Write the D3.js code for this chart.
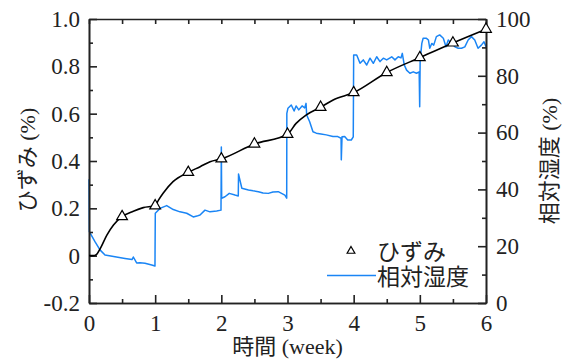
<!DOCTYPE html>
<html>
<head>
<meta charset="utf-8">
<script src="https://cdn.jsdelivr.net/npm/d3@7"></script>
<style>
  body { margin: 0; background: #fff; }
  text { fill: #222; }
</style>
</head>
<body>
<svg id="chart" width="570" height="360"></svg>
<script>
// Axis ticks
const weekTicks = [0, 1, 2, 3, 4, 5, 6];
const weekMinor = [0.5, 1.5, 2.5, 3.5, 4.5, 5.5];
const strainTicks = [-0.2, 0, 0.2, 0.4, 0.6, 0.8, 1.0];
const strainMinor = [-0.1, 0.1, 0.3, 0.5, 0.7, 0.9];
const rhTicks = [0, 20, 40, 60, 80, 100];
const rhMinor = [10, 30, 50, 70, 90];

// Strain (%) — measured every half week
const markerWeek = [0.5, 1, 1.5, 2, 2.5, 3, 3.5, 4, 4.5, 5, 5.5, 6];
const markerStrain = [0.165, 0.211, 0.352, 0.409, 0.472, 0.513, 0.627, 0.689, 0.774, 0.837, 0.899, 0.957];

// Strain (%) — continuous record
const strainWeek = [0, 0.06, 0.11, 0.17, 0.27, 0.37, 0.5, 0.67, 0.82, 1.0, 1.05, 1.12, 1.27, 1.5, 1.68, 1.83, 2.0, 2.5, 3.0, 3.13, 3.28, 3.5, 3.69, 4.0, 4.5, 5.0, 5.5, 6.0];
const strainValue = [0, 0, 0.004, 0.03, 0.087, 0.13, 0.165, 0.188, 0.203, 0.211, 0.235, 0.264, 0.313, 0.352, 0.376, 0.397, 0.409, 0.472, 0.513, 0.559, 0.594, 0.627, 0.658, 0.689, 0.774, 0.837, 0.899, 0.957];

// Relative humidity (%) — logger record
const rhWeek = [0, 0.005, 0.09, 0.166, 0.242, 0.393, 0.544, 0.65, 0.67, 0.72, 0.77, 0.846, 0.948, 0.997,
  1.002, 1.073, 1.174, 1.274, 1.375, 1.477, 1.576, 1.63, 1.678, 1.753, 1.829, 1.93, 1.995,
  2.0, 2.005, 2.055, 2.12, 2.206, 2.256, 2.26, 2.31, 2.41, 2.48, 2.56, 2.63, 2.71, 2.78, 2.86, 2.96, 2.988,
  2.99, 3.007, 3.057, 3.10, 3.13, 3.17, 3.22, 3.26, 3.28, 3.29, 3.335, 3.385, 3.435, 3.506, 3.586, 3.687, 3.76, 3.81, 3.813, 3.824, 3.864, 3.91, 3.964, 3.994,
  4.0, 4.046, 4.096, 4.145, 4.197, 4.247, 4.297, 4.348, 4.398, 4.448, 4.499, 4.575, 4.624, 4.674, 4.715, 4.735, 4.765, 4.80, 4.85, 4.90, 4.95, 4.99,
  4.998, 5.005, 5.03, 5.05, 5.10, 5.13, 5.15, 5.18, 5.21, 5.25, 5.30, 5.355, 5.395, 5.43, 5.48, 5.53, 5.58, 5.63, 5.68, 5.73, 5.78, 5.83, 5.88, 5.93, 5.97, 6.0];
const rhValue = [43.6, 25.1, 21.6, 18.7, 16.9, 16.3, 15.7, 15.3, 16.2, 14.1, 14.2, 14.0, 13.4, 13.0,
  31.6, 33.3, 34.3, 32.9, 32.1, 31.6, 30.3, 30.6, 31.0, 32.7, 32.1, 32.4, 32.7,
  54.9, 36.9, 37.4, 38.6, 38.0, 37.7, 45.4, 40.4, 39.8, 39.5, 39.2, 38.7, 38.6, 39.1, 39.2, 38.0, 36.9,
  66.8, 68.6, 69.7, 67.6, 69.4, 68.0, 69.4, 68.7, 70.3, 66.2, 63.8, 60.3, 59.8, 59.5, 59.2, 58.6, 58.6, 58.0, 50.4, 58.5, 58.6, 57.4, 57.4, 58.5,
  87.3, 87.3, 84.4, 85.6, 83.8, 86.2, 84.4, 86.7, 85.0, 86.2, 85.6, 86.7, 85.6, 86.7, 86.3, 87.9, 83.8, 82.0, 80.9, 81.4, 80.9, 81.4,
  69.1, 85.6, 91.4, 93.2, 93.2, 92.6, 89.7, 91.4, 90.8, 93.8, 94.4, 93.2, 90.2, 92.6, 91.4, 90.2, 89.7, 89.7, 90.2, 92.6, 93.8, 92.6, 89.7, 90.8, 92.0, 90.2];

const svg = d3.select("#chart");
const plotLeft = 89, plotRight = 486, plotTop = 19, plotBottom = 303;
const numFont = "'Liberation Serif', 'Times New Roman', serif";
const jpFont = "'Liberation Serif', 'Noto Sans CJK JP', serif";

const x = d3.scaleLinear().domain([0, 6]).range([plotLeft, plotRight]);
const yL = d3.scaleLinear().domain([-0.2, 1.0]).range([plotBottom, plotTop]);
const yR = d3.scaleLinear().domain([0, 100]).range([plotBottom, plotTop]);

function styleAxis(g) {
  g.attr("font-family", numFont).attr("font-size", 23);
  g.selectAll("path, line").attr("stroke", "#222").attr("stroke-width", 1.6);
  g.selectAll("text").attr("font-family", numFont).attr("font-size", 23).attr("fill", "#222");
}

// Humidity trace
const rhLine = d3.line().x((d, i) => x(rhWeek[i])).y(d => yR(d));
svg.append("path")
  .attr("d", rhLine(rhValue))
  .attr("fill", "none")
  .attr("stroke", "#1a85f5")
  .attr("stroke-width", 1.5)
  .attr("stroke-linejoin", "round");

// Axes: bottom, top, left, right with inward ticks
svg.append("g").attr("transform", `translate(0,${plotBottom})`)
  .call(d3.axisBottom(x).tickValues(weekTicks).tickSizeInner(-8).tickSizeOuter(0).tickPadding(12).tickFormat(d3.format("d")))
  .call(styleAxis);
svg.append("g").attr("transform", `translate(0,${plotBottom})`)
  .call(d3.axisBottom(x).tickValues(weekMinor).tickSizeInner(-4).tickSizeOuter(0).tickFormat(""))
  .call(styleAxis);
svg.append("g").attr("transform", `translate(0,${plotTop})`)
  .call(d3.axisTop(x).tickValues(weekTicks.concat(weekMinor)).tickSizeInner(-5).tickSizeOuter(0).tickFormat(""))
  .call(styleAxis);
svg.append("g").attr("transform", `translate(${plotLeft},0)`)
  .call(d3.axisLeft(yL).tickValues(strainTicks).tickSizeInner(-8).tickSizeOuter(0).tickPadding(9)
    .tickFormat(d => d === 0 ? "0" : d.toFixed(1)))
  .call(styleAxis);
svg.append("g").attr("transform", `translate(${plotLeft},0)`)
  .call(d3.axisLeft(yL).tickValues(strainMinor).tickSizeInner(-4).tickSizeOuter(0).tickFormat(""))
  .call(styleAxis);
svg.append("g").attr("transform", `translate(${plotRight},0)`)
  .call(d3.axisRight(yR).tickValues(rhTicks).tickSizeInner(-8).tickSizeOuter(0).tickPadding(10).tickFormat(d3.format("d")))
  .call(styleAxis);
svg.append("g").attr("transform", `translate(${plotRight},0)`)
  .call(d3.axisRight(yR).tickValues(rhMinor).tickSizeInner(-4).tickSizeOuter(0).tickFormat(""))
  .call(styleAxis);

// Strain curve and markers
const strainLine = d3.line().x((d, i) => x(strainWeek[i])).y(d => yL(d)).curve(d3.curveMonotoneX);
svg.append("path")
  .attr("d", strainLine(strainValue))
  .attr("fill", "none")
  .attr("stroke", "#000")
  .attr("stroke-width", 1.6);

const tri = d3.symbol().type(d3.symbolTriangle).size(50);
svg.append("g").selectAll("path")
  .data(markerStrain)
  .join("path")
  .attr("d", tri)
  .attr("transform", (d, i) => `translate(${x(markerWeek[i])},${yL(d)})`)
  .attr("fill", "#fff")
  .attr("stroke", "#000")
  .attr("stroke-width", 1.2);

// Axis titles
svg.append("text")
  .attr("x", (plotLeft + plotRight) / 2).attr("y", 354)
  .attr("text-anchor", "middle")
  .attr("font-family", jpFont).attr("font-size", 22)
  .text("時間 (week)");
svg.append("text")
  .attr("transform", "translate(35,160) rotate(-90)")
  .attr("text-anchor", "middle")
  .attr("font-family", jpFont).attr("font-size", 22)
  .text("ひずみ (%)");
svg.append("text")
  .attr("transform", "translate(557,161) rotate(-90)")
  .attr("text-anchor", "middle")
  .attr("font-family", jpFont).attr("font-size", 22)
  .text("相対湿度 (%)");

// Legend
const legend = svg.append("g");
legend.append("path")
  .attr("d", d3.symbol().type(d3.symbolTriangle).size(26)())
  .attr("transform", "translate(351,251)")
  .attr("fill", "#fff").attr("stroke", "#000").attr("stroke-width", 1.2);
legend.append("text")
  .attr("x", 377).attr("y", 259.5)
  .attr("font-family", jpFont).attr("font-size", 23).attr("fill", "#333")
  .text("ひずみ");
legend.append("line")
  .attr("x1", 327).attr("x2", 376).attr("y1", 275.5).attr("y2", 275.5)
  .attr("stroke", "#1a85f5").attr("stroke-width", 1.5);
legend.append("text")
  .attr("x", 377).attr("y", 284.5)
  .attr("font-family", jpFont).attr("font-size", 23).attr("fill", "#333")
  .text("相対湿度");
</script>
</body>
</html>
